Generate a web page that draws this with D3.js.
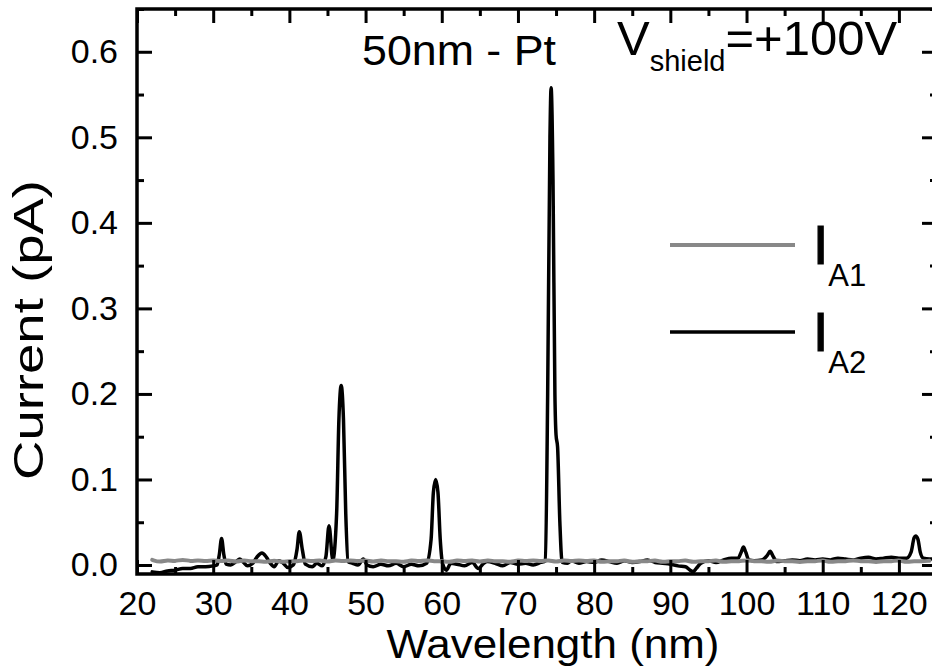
<!DOCTYPE html>
<html lang="en">
<head>
    <meta charset="UTF-8">
    <title>50nm - Pt current spectrum</title>
    <script src="https://d3js.org/d3.v7.min.js"></script>
    <style>
        body { margin: 0; background: #fff; }
        svg { display: block; }
        text { font-family: "Liberation Sans", Arial, sans-serif; fill: #000; }
        .line { fill: none; stroke-linejoin: round; stroke-linecap: round; }
    </style>
</head>
<body>
<svg id="chart" width="932" height="669"></svg>
<script>
    // axis ticks
    const xTicks = [20, 30, 40, 50, 60, 70, 80, 90, 100, 110, 120];
    const xMinor = [25, 35, 45, 55, 65, 75, 85, 95, 105, 115, 125];
    const yTicks = [0.0, 0.1, 0.2, 0.3, 0.4, 0.5, 0.6];
    const yMinor = [0.05, 0.15, 0.25, 0.35, 0.45, 0.55, 0.65];

    // I_A2 (black)
    const a2Wavelength = [22, 23, 24, 25, 26, 27, 28, 29, 30, 30.5, 30.8, 31.1, 31.4, 31.7, 32.3, 33, 33.5, 34, 34.5,
        35.2, 35.8, 36.4, 37, 37.5, 38, 38.6, 39.2, 39.8, 40.5, 41, 41.3, 41.7, 42.1, 43, 43.6, 44.3, 44.8, 45.2,
        45.7, 46.2, 46.5, 46.8, 47.1, 47.4, 47.7, 48.3, 49, 49.7, 50.2, 51, 52, 53, 54, 55, 56, 57, 58, 58.6, 58.9,
        59.2, 59.5, 59.8, 60.1, 60.6, 61.2, 62, 63, 64, 64.8, 65.5, 66, 67, 68, 69, 70, 71, 72, 73, 73.6, 73.9,
        74.2, 74.35, 74.6, 74.85, 75, 75.2, 75.5, 75.8, 76.5, 77, 78, 79, 80, 81, 82, 83, 84, 85, 86, 87, 88, 89,
        90, 91, 92, 92.6, 93, 93.4, 94, 95, 96, 97, 98, 98.9, 99.3, 99.6, 99.9, 100.3, 101, 102, 102.7, 103.1,
        103.5, 104, 105, 106, 107, 108, 109, 110, 111, 112, 113, 114, 115, 116, 117, 118, 119, 120, 121, 121.6,
        122, 122.2, 122.5, 122.8, 123.2, 124, 124.5];
    const a2Current = [-0.008, -0.009, -0.007, -0.006, -0.004, -0.004, -0.002, -0.002, -0.001, 0.000, 0.012, 0.031,
        0.012, 0.001, 0.000, 0.004, 0.007, 0.003, -0.001, 0.002, 0.010, 0.014, 0.009, 0.002, -0.002, 0.005, 0.002,
        -0.003, 0.000, 0.018, 0.039, 0.018, 0.001, -0.002, 0.002, -0.001, 0.010, 0.046, 0.006, 0.060, 0.170, 0.210,
        0.170, 0.060, 0.004, 0.002, 0.000, 0.007, 0.000, -0.002, 0.001, -0.001, 0.002, -0.002, 0.001, -0.001, 0.002,
        0.030, 0.085, 0.100, 0.085, 0.030, 0.002, -0.006, 0.002, 0.001, -0.001, 0.003, -0.004, 0.002, 0.004, 0.002,
        -0.001, 0.003, 0.001, 0.002, 0.000, 0.003, 0.005, 0.200, 0.500, 0.558, 0.450, 0.200, 0.152, 0.138, 0.050,
        0.003, 0.002, 0.005, 0.002, 0.004, 0.003, 0.006, 0.004, 0.002, 0.005, 0.003, 0.004, 0.006, 0.003, 0.002,
        0.001, -0.001, -0.002, -0.006, -0.008, -0.004, 0.002, 0.005, 0.003, 0.006, 0.008, 0.008, 0.015, 0.021,
        0.015, 0.006, 0.005, 0.006, 0.011, 0.016, 0.010, 0.004, 0.005, 0.006, 0.005, 0.007, 0.006, 0.007, 0.006,
        0.008, 0.007, 0.006, 0.008, 0.009, 0.007, 0.008, 0.009, 0.008, 0.008, 0.015, 0.032, 0.034, 0.030, 0.015,
        0.008, 0.007, 0.007];

    // I_A1 (grey) - noisy baseline
    const a1Wavelength = [22, 23, 24, 25, 26, 27, 28, 29, 30, 31, 32, 33, 34, 35, 36, 37, 38, 39, 40, 41, 42, 43, 44,
        45, 46, 47, 48, 49, 50, 51, 52, 53, 54, 55, 56, 57, 58, 59, 60, 61, 62, 63, 64, 65, 66, 67, 68, 69, 70, 71,
        72, 73, 74, 75, 76, 77, 78, 79, 80, 81, 82, 83, 84, 85, 86, 87, 88, 89, 90, 91, 92, 93, 94, 95, 96, 97, 98,
        99, 100, 101, 102, 103, 104, 105, 106, 107, 108, 109, 110, 111, 112, 113, 114, 115, 116, 117, 118, 119, 120,
        121, 122, 123, 124];
    const a1Current = [0.006, 0.003, 0.006, 0.004, 0.007, 0.004, 0.006, 0.004, 0.006, 0.004, 0.006, 0.003, 0.006,
        0.004, 0.005, 0.003, 0.006, 0.003, 0.005, 0.004, 0.006, 0.004, 0.006, 0.003, 0.006, 0.004, 0.006, 0.004,
        0.006, 0.003, 0.006, 0.004, 0.005, 0.003, 0.006, 0.004, 0.006, 0.004, 0.005, 0.003, 0.006, 0.004, 0.006,
        0.003, 0.006, 0.004, 0.005, 0.003, 0.006, 0.004, 0.006, 0.004, 0.006, 0.003, 0.006, 0.004, 0.006, 0.004,
        0.006, 0.003, 0.005, 0.004, 0.006, 0.003, 0.005, 0.004, 0.006, 0.003, 0.005, 0.004, 0.006, 0.003, 0.005,
        0.004, 0.006, 0.003, 0.005, 0.004, 0.006, 0.004, 0.005, 0.003, 0.006, 0.004, 0.005, 0.003, 0.005, 0.004,
        0.006, 0.003, 0.005, 0.004, 0.006, 0.004, 0.005, 0.003, 0.005, 0.004, 0.006, 0.003, 0.005, 0.004, 0.005];

    const margin = { top: 9, right: -5, bottom: 95, left: 137 },
          width = 932 - margin.left - margin.right,
          height = 669 - margin.top - margin.bottom;

    const svg = d3.select("#chart");
    const g = svg.append("g").attr("transform", `translate(${margin.left},${margin.top})`);

    const x = d3.scaleLinear().domain([20, 125]).range([0, width]);
    const y = d3.scaleLinear().domain([-0.0105, 0.65]).range([height, 0]);

    // clip the traces to the frame
    svg.append("defs").append("clipPath").attr("id", "clip")
      .append("rect").attr("width", width).attr("height", height);

    const lineGen = d3.line().x(d => x(d[0])).y(d => y(d[1]));

    g.append("g").attr("clip-path", "url(#clip)")
      .append("path")
        .datum(d3.zip(a2Wavelength, a2Current))
        .attr("class", "line")
        .attr("stroke", "#000")
        .attr("stroke-width", 3.5)
        .attr("d", lineGen.curve(d3.curveMonotoneX));

    g.append("g").attr("clip-path", "url(#clip)")
      .append("path")
        .datum(d3.zip(a1Wavelength, a1Current))
        .attr("class", "line")
        .attr("stroke", "#888")
        .attr("stroke-width", 4)
        .attr("d", d3.line().x(d => x(d[0])).y(d => y(d[1])).curve(d3.curveBasis));

    // axes: ticks point inward on all four sides
    function styleAxis(sel) {
        sel.select(".domain").remove();
        sel.selectAll(".tick line").attr("stroke", "#000").attr("stroke-width", 3);
        sel.selectAll(".tick text").style("font-size", "34px").attr("fill", "#000");
    }

    g.append("g").attr("transform", `translate(0,${height})`)
        .call(d3.axisBottom(x).tickValues(xTicks).tickSize(-14).tickPadding(17).tickFormat(d3.format("d")))
        .call(styleAxis);
    g.append("g").attr("transform", `translate(0,${height})`)
        .call(d3.axisBottom(x).tickValues(xMinor).tickSize(-7).tickFormat(""))
        .call(styleAxis);
    g.append("g")
        .call(d3.axisTop(x).tickValues(xTicks).tickSize(-14).tickFormat(""))
        .call(styleAxis);
    g.append("g")
        .call(d3.axisTop(x).tickValues(xMinor).tickSize(-7).tickFormat(""))
        .call(styleAxis);

    g.append("g")
        .call(d3.axisLeft(y).tickValues(yTicks).tickSize(-15).tickPadding(19).tickFormat(d3.format(".1f")))
        .call(styleAxis);
    g.append("g")
        .call(d3.axisLeft(y).tickValues(yMinor).tickSize(-7).tickFormat(""))
        .call(styleAxis);
    g.append("g").attr("transform", `translate(${width},0)`)
        .call(d3.axisRight(y).tickValues(yTicks).tickSize(-15).tickFormat(""))
        .call(styleAxis);
    g.append("g").attr("transform", `translate(${width},0)`)
        .call(d3.axisRight(y).tickValues(yMinor).tickSize(-7).tickFormat(""))
        .call(styleAxis);

    g.append("rect")
        .attr("width", width).attr("height", height)
        .attr("fill", "none").attr("stroke", "#000").attr("stroke-width", 3.5);

    // axis titles
    svg.append("text")
        .attr("x", 553).attr("y", 658)
        .attr("text-anchor", "middle")
        .attr("textLength", 333).attr("lengthAdjust", "spacingAndGlyphs")
        .style("font-size", "40px")
        .text("Wavelength (nm)");

    svg.append("text")
        .attr("transform", "translate(43,330) rotate(-90)")
        .attr("text-anchor", "middle")
        .attr("textLength", 300).attr("lengthAdjust", "spacingAndGlyphs")
        .style("font-size", "43px")
        .text("Current (pA)");

    // annotations
    svg.append("text")
        .attr("x", 362).attr("y", 65)
        .attr("textLength", 194).attr("lengthAdjust", "spacingAndGlyphs")
        .style("font-size", "42px")
        .text("50nm - Pt");

    const vLabel = svg.append("text").attr("x", 617).attr("y", 55).style("font-size", "49px");
    vLabel.append("tspan").text("V");
    vLabel.append("tspan").attr("dy", 16).style("font-size", "29px").text("shield");
    vLabel.append("tspan").attr("dy", -16).text("=+100V");

    // legend
    const legendItems = [
        { name: "A1", color: "#888", width: 4 },
        { name: "A2", color: "#000", width: 3.5 }
    ];
    const legend = svg.append("g").attr("transform", "translate(670,245)");
    legend.selectAll("g.item")
        .data(legendItems)
        .join("g")
        .attr("class", "item")
        .attr("transform", (d, i) => `translate(0,${i * 87})`)
        .each(function(d) {
            const item = d3.select(this);
            item.append("line")
                .attr("x1", 0).attr("x2", 125)
                .attr("stroke", d.color).attr("stroke-width", d.width);
            const t = item.append("text").attr("x", 143).attr("y", 19).style("font-size", "55px");
            t.append("tspan").attr("stroke", "#000").attr("stroke-width", 1.2).text("I");
            t.append("tspan").attr("dy", 22).style("font-size", "31px").text(d.name);
        });
</script>
</body>
</html>
